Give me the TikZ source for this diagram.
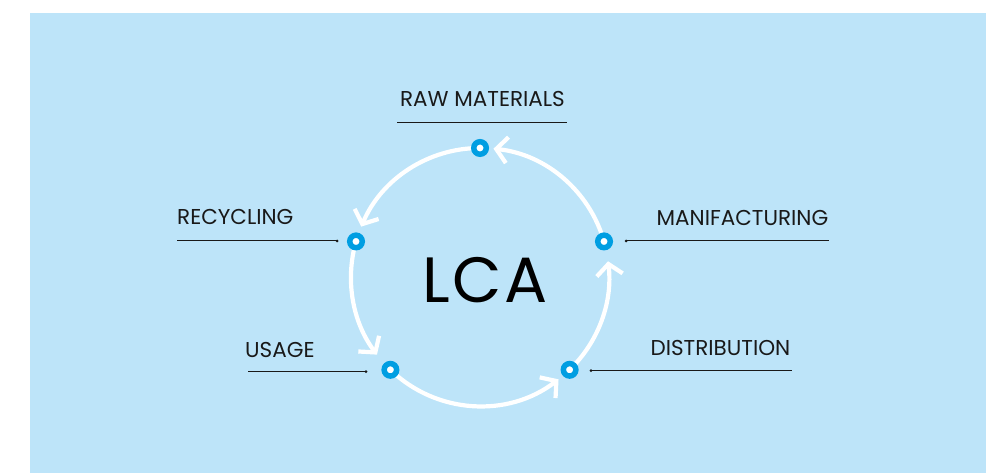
\documentclass[tikz,border=0pt]{standalone}
\usepackage{fontspec}
\setmainfont{Poppins}
\newfontfamily\lcafont[LetterSpace=4]{Poppins}
\usetikzlibrary{arrows.meta}
\definecolor{skyback}{RGB}{189,228,249}
\definecolor{dotblue}{RGB}{0,158,226}
\definecolor{inkblack}{RGB}{25,25,25}
\pgfdeclarelayer{bg}
\pgfsetlayers{bg,main}
\tikzstyle{stage} = [circle, 
draw=dotblue, 
line width=5.5pt, 
fill=white, 
minimum size=12.5pt, 
inner sep=0pt]
\tikzstyle{lbl} = [inner sep=0pt, 
text=inkblack, 
font=\fontsize{21.5}{22}\selectfont]
\tikzstyle{leader} = [line width=1pt, draw=inkblack]
\tikzstyle{tick} = [circle, fill=inkblack, inner sep=0pt, minimum size=3pt]
\tikzstyle{cycle} = [line width=4.2pt, white, 
-{Straight Barb[length=11pt, width=26pt]}]

\begin{document}
\begin{tikzpicture}[x=1pt, y=1pt]
	\useasboundingbox (0,0) rectangle (1000,473);
	
	\coordinate (c) at (480,196);
	
	% stages round the circle
	\node (raw) [stage] at ([shift={(90:129)}]c) {};
	\node (recyc) [stage] at ([shift={(164:129)}]c) {};
	\node (usage) [stage] at ([shift={(226:129)}]c) {};
	\node (dist) [stage] at ([shift={(314:129)}]c) {};
	\node (manu) [stage] at ([shift={(376:129)}]c) {};
	
	\node (lca) [inner sep=0pt, text=black, anchor=base, 
		font=\lcafont\fontsize{64}{64}\selectfont] at (485,170.3) {LCA};
	
	\begin{pgfonlayer}{bg}
		\fill[skyback] (30,0) rectangle (986,460);
		\draw [cycle] (raw.center) arc[start angle=90, end angle=157, radius=129];
		\draw [cycle] (recyc.center) arc[start angle=164, end angle=217, radius=129];
		\draw [cycle] (usage.center) arc[start angle=226, end angle=307.5, radius=129];
		\draw [cycle] (dist.center) arc[start angle=314, end angle=367, radius=129];
		\draw [cycle] (manu.center) arc[start angle=16, end angle=84, radius=129];
	\end{pgfonlayer}
	
	% leader lines
	\coordinate (raw-l) at (397,350.7);
	\coordinate (raw-r) at (567,350.7);
	\coordinate (recyc-l) at (177,232);
	\coordinate (recyc-r) at (337,232);
	\coordinate (manu-l) at (626,232);
	\coordinate (manu-r) at (829,232);
	\coordinate (usage-l) at (248,101.3);
	\coordinate (usage-r) at (366,101.3);
	\coordinate (dist-l) at (591,102.3);
	\coordinate (dist-r) at (792,102.3);
	
	\draw [leader] (raw-l) -- (raw-r);
	\draw [leader] (recyc-l) -- (recyc-r);
	\draw [leader] (manu-l) -- (manu-r);
	\draw [leader] (usage-l) -- (usage-r);
	\draw [leader] (dist-l) -- (dist-r);
	\node (recyc-t) [tick] at (recyc-r) {};
	\node (manu-t) [tick] at (manu-l) {};
	\node (usage-t) [tick] at (usage-r) {};
	\node (dist-t) [tick] at (dist-l) {};
	
	% labels
	\node (rawtxt) [lbl, anchor=base] at (482.5,366.3) {RAW MATERIALS};
	\node (recyctxt) [lbl, anchor=base west] at (177,248) {RECYCLING};
	\node (usagetxt) [lbl, anchor=base west] at (245,115.7) {USAGE};
	\node (manutxt) [lbl, anchor=base east] at (828.5,247.3) {MANIFACTURING};
	\node (disttxt) [lbl, anchor=base east] at (790.5,117.3) {DISTRIBUTION};
	
\end{tikzpicture}
\end{document}
